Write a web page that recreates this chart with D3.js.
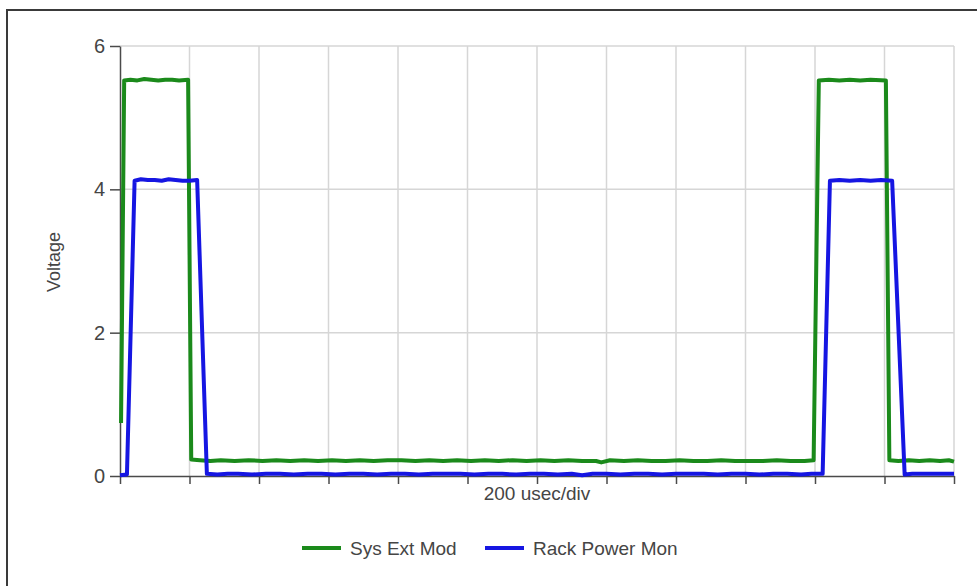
<!DOCTYPE html>
<html>
<head>
<meta charset="utf-8">
<script src="https://cdn.jsdelivr.net/npm/d3@7/dist/d3.min.js"></script>
<style>
  html, body { margin: 0; padding: 0; background: #fff; }
  svg { display: block; font-family: "Liberation Sans", Arial, sans-serif; }
</style>
</head>
<body>
<svg id="chart" width="977" height="586"></svg>
<script>
// Oscilloscope capture: time in microseconds, voltage in volts
const seriesNames = ["Sys Ext Mod", "Rack Power Mon"];
const seriesColors = ["#1b8a1b", "#1616e2"];
const yTicks = [0, 2, 4, 6];
const xTicks = [0, 200, 400, 600, 800, 1000, 1200, 1400, 1600, 1800, 2000, 2200, 2400];
const xLabel = "200 usec/div";
const yLabel = "Voltage";

const sysExtMod = [
  [3, 0.74], [12, 5.52], [30, 5.53], [50, 5.52], [70, 5.54], [90, 5.53], [110, 5.52],
  [130, 5.53], [150, 5.53], [170, 5.52], [196, 5.53], [205, 0.23],
  [230, 0.22], [260, 0.21], [290, 0.22], [330, 0.21], [370, 0.22], [410, 0.21],
  [450, 0.22], [490, 0.21], [530, 0.22], [570, 0.21], [610, 0.22], [650, 0.21],
  [690, 0.22], [730, 0.21], [770, 0.22], [810, 0.22], [850, 0.21], [890, 0.22],
  [930, 0.21], [970, 0.22], [1010, 0.21], [1050, 0.22], [1090, 0.21], [1130, 0.22],
  [1170, 0.21], [1210, 0.22], [1250, 0.21], [1290, 0.22], [1330, 0.21], [1370, 0.21],
  [1385, 0.19], [1410, 0.22], [1450, 0.21], [1490, 0.22], [1530, 0.21], [1570, 0.21],
  [1610, 0.22], [1650, 0.21], [1690, 0.21], [1730, 0.22], [1770, 0.21], [1810, 0.21],
  [1850, 0.21], [1890, 0.22], [1930, 0.21], [1970, 0.21], [1996, 0.22],
  [2011, 5.52], [2040, 5.53], [2070, 5.52], [2100, 5.53], [2130, 5.52], [2160, 5.53],
  [2204, 5.52], [2214, 0.22], [2240, 0.21], [2270, 0.22], [2300, 0.21], [2330, 0.22],
  [2360, 0.21], [2385, 0.22], [2400, 0.20]
];

const rackPowerMon = [
  [0, 0.01], [20, 0.02], [42, 4.12], [60, 4.14], [80, 4.13], [100, 4.13], [120, 4.12],
  [140, 4.14], [160, 4.13], [180, 4.12], [200, 4.12], [222, 4.13], [250, 0.03],
  [280, 0.02], [310, 0.03], [340, 0.03], [380, 0.02], [420, 0.03], [460, 0.03],
  [500, 0.02], [540, 0.03], [580, 0.03], [620, 0.02], [660, 0.03], [700, 0.03],
  [740, 0.02], [780, 0.03], [820, 0.03], [860, 0.02], [900, 0.03], [940, 0.03],
  [980, 0.03], [1020, 0.02], [1060, 0.03], [1100, 0.03], [1140, 0.02], [1180, 0.03],
  [1220, 0.03], [1260, 0.02], [1300, 0.03], [1330, 0.01], [1360, 0.03], [1400, 0.03],
  [1440, 0.02], [1480, 0.03], [1520, 0.03], [1560, 0.02], [1600, 0.03], [1640, 0.03],
  [1680, 0.03], [1720, 0.02], [1760, 0.03], [1800, 0.03], [1840, 0.02], [1880, 0.03],
  [1920, 0.03], [1960, 0.02], [1990, 0.03], [2022, 0.03],
  [2043, 4.12], [2070, 4.13], [2100, 4.12], [2130, 4.13], [2160, 4.12], [2190, 4.13],
  [2222, 4.12], [2258, 0.02], [2280, 0.03], [2310, 0.03], [2340, 0.03], [2370, 0.03],
  [2400, 0.03]
];

const svg = d3.select("#chart");

// Outer frame (open on the right and bottom)
svg.append("path")
  .attr("d", "M7,586 L7,10 L977,10")
  .attr("fill", "none")
  .attr("stroke", "#3a3a3a")
  .attr("stroke-width", 2);

const x = d3.scaleLinear().domain([0, 2400]).range([120, 954]);
const y = d3.scaleLinear().domain([0, 6]).range([476, 46]);

// Grid
const grid = svg.append("g").attr("stroke", "#d6d6d6").attr("stroke-width", 1.5);
grid.selectAll("line.v").data(xTicks.slice(1)).join("line")
  .attr("x1", d => x(d)).attr("x2", d => x(d))
  .attr("y1", y(6)).attr("y2", y(0));
grid.selectAll("line.h").data(yTicks.slice(1)).join("line")
  .attr("x1", x(0)).attr("x2", x(2400))
  .attr("y1", d => y(d)).attr("y2", d => y(d));

// Axes
const yAxis = svg.append("g")
  .attr("transform", `translate(${x(0)},0)`)
  .call(d3.axisLeft(y).tickValues(yTicks).tickFormat(d3.format("d"))
    .tickSize(10).tickSizeOuter(0).tickPadding(5));
const xAxis = svg.append("g")
  .attr("transform", `translate(0,${y(0)})`)
  .call(d3.axisBottom(x).tickValues(xTicks).tickSize(8).tickSizeOuter(0).tickFormat(""));
[yAxis, xAxis].forEach(g => {
  g.selectAll("path, line").attr("stroke", "#4a4a4a").attr("stroke-width", 1.5);
});
yAxis.selectAll("text")
  .attr("fill", "#454545")
  .style("font-size", "20px")
  .style("font-family", "'Liberation Sans', Arial, sans-serif");

// Traces
const line = d3.line().x(d => x(d[0])).y(d => y(d[1]));
[sysExtMod, rackPowerMon].forEach((data, i) => {
  svg.append("path")
    .datum(data)
    .attr("d", line)
    .attr("fill", "none")
    .attr("stroke", seriesColors[i])
    .attr("stroke-width", 4)
    .attr("stroke-linejoin", "round");
});

// Axis titles
svg.append("text")
  .attr("transform", `translate(54,262) rotate(-90)`)
  .attr("text-anchor", "middle")
  .attr("dominant-baseline", "central")
  .attr("fill", "#454545")
  .style("font-size", "18px")
  .text(yLabel);
svg.append("text")
  .attr("x", 537).attr("y", 500)
  .attr("text-anchor", "middle")
  .attr("fill", "#454545")
  .style("font-size", "19px")
  .text(xLabel);

// Legend
const legendX = [302, 485];
seriesNames.forEach((name, i) => {
  const g = svg.append("g").attr("transform", `translate(${legendX[i]},548)`);
  g.append("line")
    .attr("x1", 0).attr("x2", 39).attr("y1", 0).attr("y2", 0)
    .attr("stroke", seriesColors[i]).attr("stroke-width", 4);
  g.append("text")
    .attr("x", 48).attr("y", 6.5)
    .attr("fill", "#454545")
    .style("font-size", "19px")
    .text(name);
});
</script>
</body>
</html>
